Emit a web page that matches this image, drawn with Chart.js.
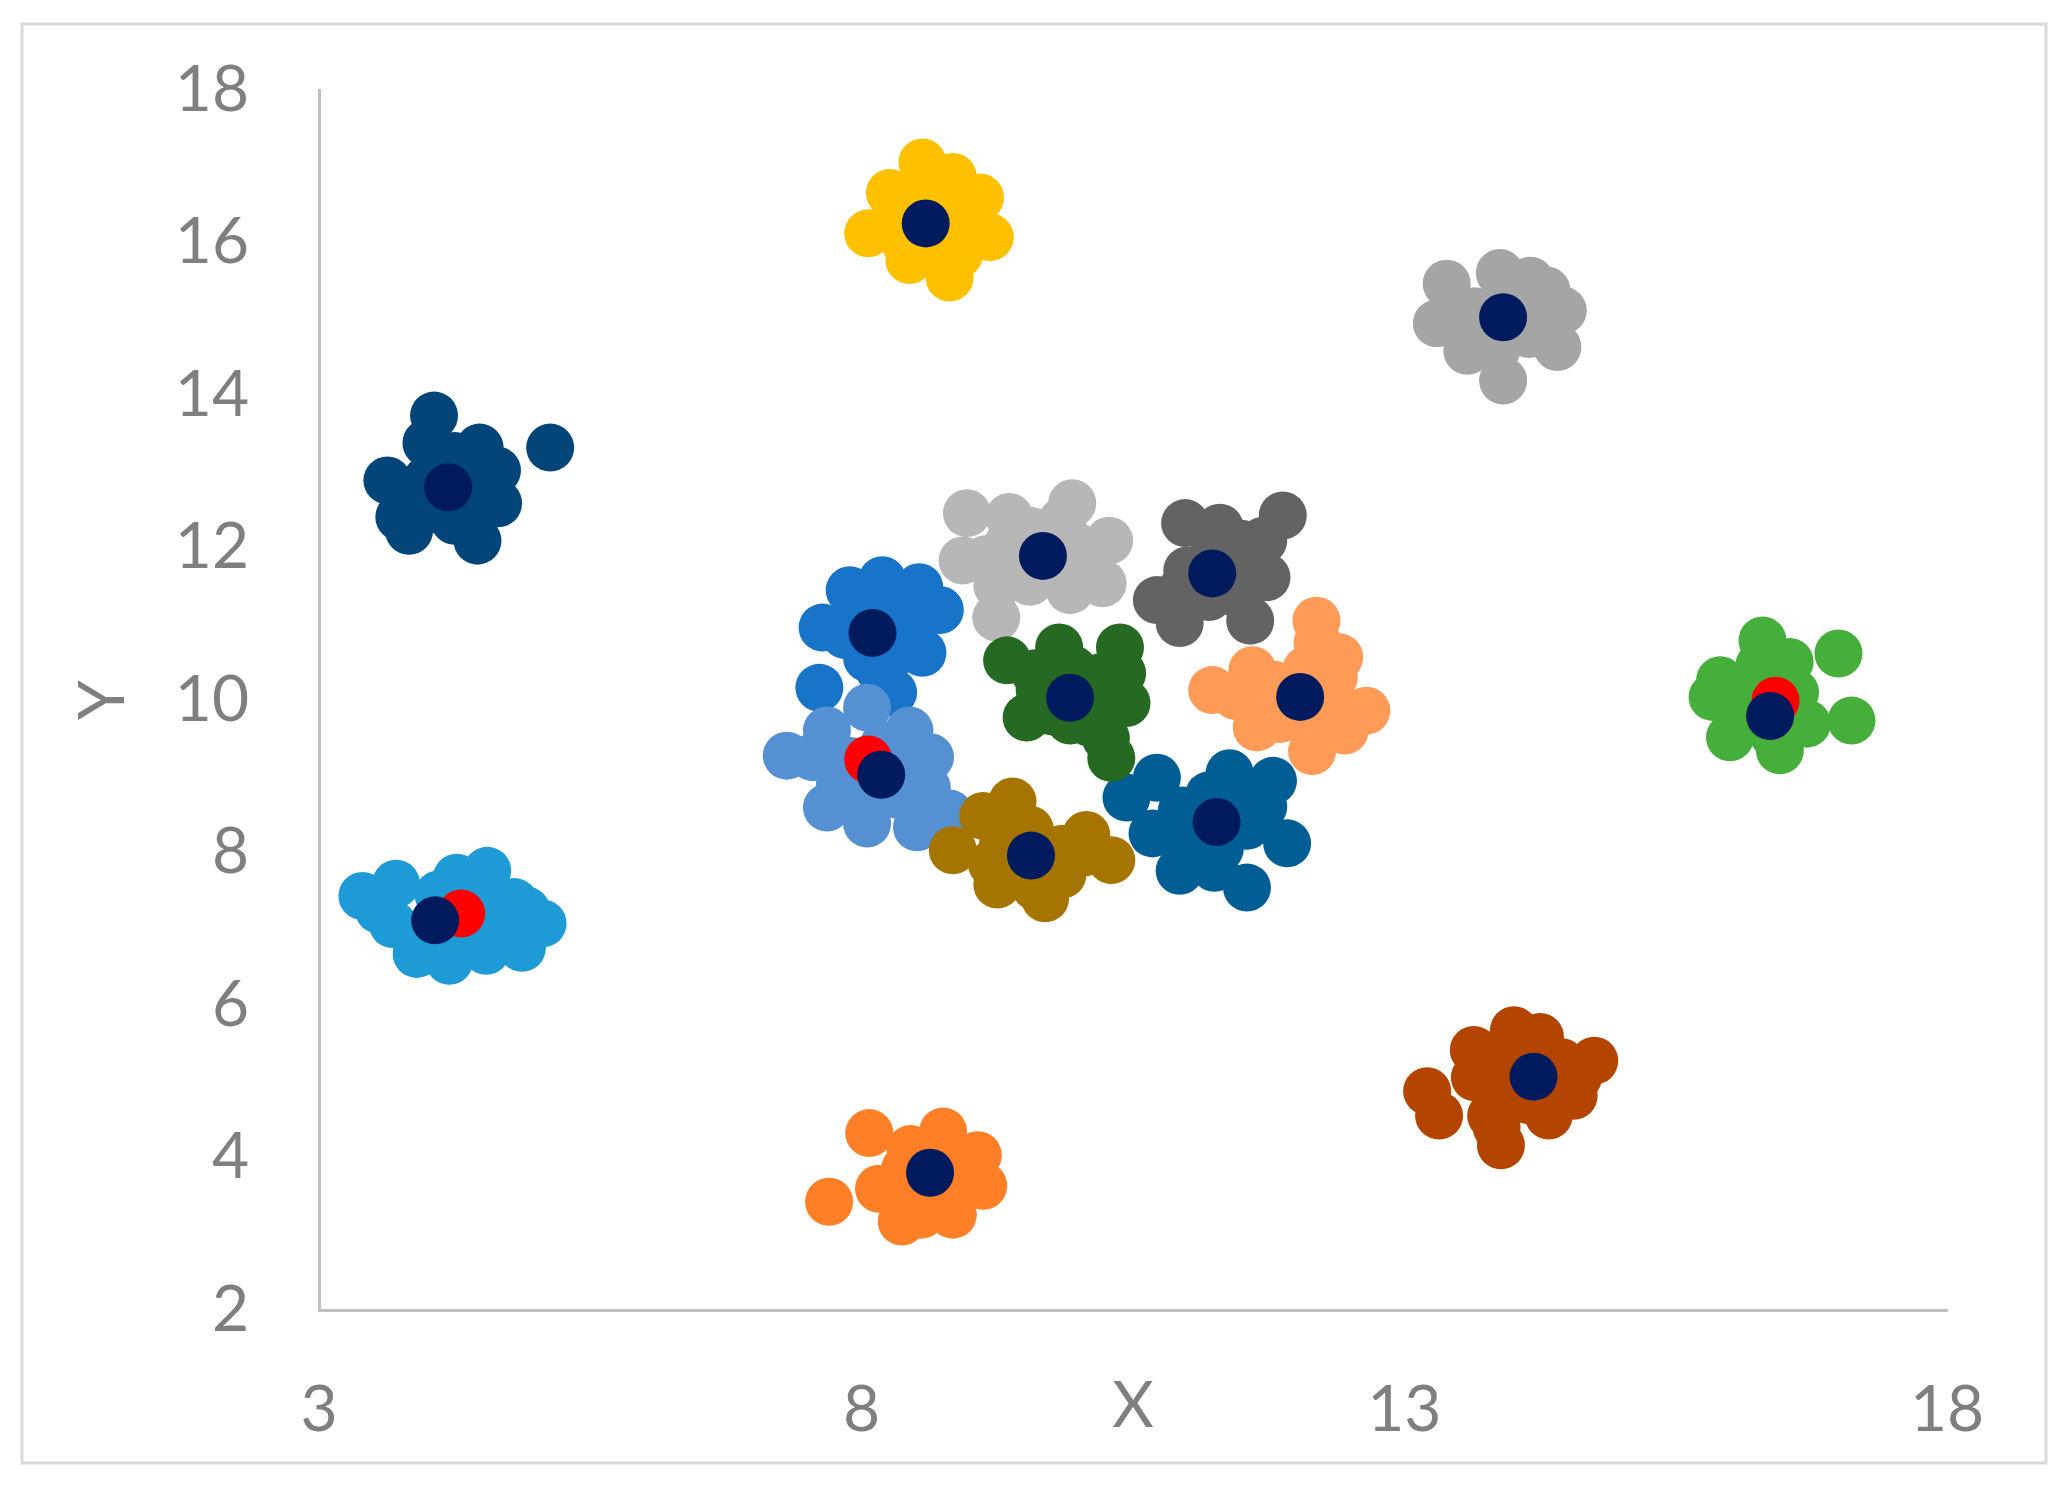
<!DOCTYPE html>
<html>
<head>
<meta charset="utf-8">
<style>
  html, body { margin: 0; padding: 0; background: #fff; }
  #myChart { display: block; }
</style>
</head>
<body>
<canvas id="myChart" width="2070" height="1487"></canvas>
<script src="https://cdn.jsdelivr.net/npm/chart.js"></script>
<script>
// cluster members, [x, y]
const darkBlue = [[4.06,13.73],[5.13,13.31],[3.63,12.88],[3.83,12.22],[4.46,12.09],[4.65,12.58],[4.64,13.01],[4.48,13.31],[3.99,13.37],[3.74,12.40],[4.20,13.14],[4.11,12.49],
                  [4.00,12.90],[4.40,12.95],[4.35,12.60],[4.00,12.60],[4.25,13.20],[3.85,12.75],[4.55,12.80],[4.25,12.35]];
const skyBlue = [[3.40,7.43],[3.71,7.59],[4.27,7.67],[4.55,7.76],[4.91,7.24],[5.06,7.07],[4.87,6.75],[4.54,6.71],[4.20,6.58],[3.90,6.67],[3.68,7.06],[4.60,7.10],
                 [3.55,7.25],[4.10,7.45],[4.45,7.45],[4.80,7.35],[4.70,7.00],[4.35,6.85],[4.05,6.85]];
const gold = [[8.56,17.05],[8.06,16.12],[9.09,16.59],[9.18,16.07],[8.81,15.54],[8.44,15.77],[8.26,16.65],[8.84,16.86],[8.67,16.23],
              [8.40,16.30],[8.75,16.45],[8.85,16.15],[8.60,15.95],[8.40,16.00],[8.60,16.60],[8.95,16.40],[8.90,15.85]];
const silver = [[13.39,15.46],[13.30,14.94],[13.88,15.60],[14.16,15.50],[14.46,15.11],[14.41,14.63],[13.91,14.19],[13.58,14.58],[14.31,15.37],
                [13.65,15.10],[13.95,15.35],[14.20,15.10],[14.15,14.80],[13.85,14.60],[13.60,14.85],[14.25,15.30]];
const darkGrey = [[10.98,12.32],[11.88,12.42],[11.70,12.09],[11.73,11.61],[10.72,11.31],[10.93,11.01],[11.58,11.04],[11.30,12.26],
                  [11.00,11.70],[11.25,11.95],[11.50,11.75],[11.45,11.40],[11.20,11.35],[10.95,11.45],[11.50,12.05]];
const lightGrey = [[8.97,12.45],[9.36,12.40],[9.94,12.58],[10.28,12.09],[10.22,11.53],[9.92,11.44],[9.24,11.08],[8.93,11.83],[9.55,12.22],
                   [9.35,12.05],[9.70,12.20],[10.00,12.00],[9.95,11.70],[9.55,11.55],[9.25,11.50],[9.15,11.85],[9.85,12.35]];
const blue = [[7.89,11.44],[8.19,11.57],[8.53,11.48],[8.72,11.18],[8.56,10.62],[8.29,10.10],[7.64,10.95],[7.61,10.16],[8.17,10.38],
              [7.95,11.15],[8.30,11.20],[8.45,10.90],[8.35,10.65],[8.05,10.55],[7.85,10.85],[8.00,11.35]];
const paleBlue = [[8.05,9.90],[7.31,9.27],[7.68,9.60],[8.63,9.25],[8.81,8.51],[8.51,8.33],[8.05,8.38],[7.68,8.59],[8.44,9.60],
                  [7.90,9.20],[8.20,9.40],[8.40,9.10],[8.35,8.75],[8.05,8.70],[7.80,8.90],[7.55,9.25],[8.60,8.85],[8.70,8.55]];
const steelBlue = [[10.44,8.72],[10.72,8.98],[11.39,9.04],[11.79,8.94],[11.92,8.12],[11.55,7.54],[10.93,7.76],[10.68,8.25],
                   [10.95,8.55],[11.20,8.75],[11.55,8.70],[11.55,8.35],[11.30,8.05],[11.00,8.10],[11.70,8.60],[11.25,7.80]];
const olive = [[8.84,8.03],[9.39,8.67],[9.12,8.48],[10.07,8.23],[10.30,7.90],[9.25,7.58],[9.69,7.40],[9.85,7.71],
               [9.30,8.10],[9.55,8.30],[9.85,8.05],[9.75,7.80],[9.45,7.70],[9.20,7.85],[9.60,7.55],[10.05,8.00]];
const forest = [[9.34,10.52],[9.52,9.77],[9.92,9.73],[9.82,10.69],[10.38,10.69],[10.44,9.96],[10.30,9.24],[9.64,10.13],
                [9.60,10.35],[9.95,10.40],[10.20,10.30],[10.20,10.00],[10.10,9.70],[9.75,9.85],[10.40,10.35],[10.25,9.50]];
const peach = [[12.19,11.04],[12.40,10.56],[12.65,9.86],[12.15,9.33],[11.23,10.13],[11.60,10.39],[11.64,9.64],[12.31,10.13],
               [11.80,10.20],[12.10,10.40],[12.35,10.30],[12.35,9.95],[12.10,9.70],[11.85,9.75],[11.45,10.05],[12.20,10.75],[12.45,9.60]];
const orange = [[7.70,3.42],[8.07,4.32],[8.75,4.34],[9.07,4.03],[9.12,3.63],[8.84,3.25],[8.37,3.16],[8.16,3.59],[8.45,4.11],
                [8.40,3.85],[8.60,4.10],[8.85,3.95],[8.85,3.65],[8.60,3.45],[8.35,3.50],[8.95,3.80],[8.55,3.25]];
const rust = [[13.21,4.87],[13.32,4.55],[13.64,5.41],[14.01,5.67],[14.25,5.58],[14.75,5.27],[14.56,4.81],[14.33,4.55],[13.89,4.16],[13.80,4.55],
              [13.90,5.15],[14.15,5.40],[14.45,5.25],[14.40,4.95],[14.15,4.75],[13.85,4.85],[13.65,5.05],[14.60,5.05],[13.95,5.45],[13.85,4.40]];
const green = [[16.30,10.78],[17.00,10.61],[17.12,9.73],[15.91,10.26],[15.84,10.04],[16.00,9.51],[16.46,9.34],[16.71,9.69],[16.27,10.45],
               [16.15,10.05],[16.40,10.25],[16.60,10.10],[16.60,9.80],[16.40,9.55],[16.15,9.70],[16.05,10.15],[16.55,10.50]];

// bottom to top
const clusters = [darkBlue, skyBlue, gold, silver, darkGrey, lightGrey, blue, paleBlue, steelBlue, olive, forest, peach, orange, rust, green];
const clusterColors = ['#034479', '#1E9BD7', '#FFC000', '#A5A5A5', '#636363', '#B7B7B7', '#1874C8', '#5590D3',
                       '#005E95', '#A67500', '#266923', '#FF9A57', '#FF7F27', '#B34500', '#46AF3C'];

const redPoints = [[4.31,7.20],[8.06,9.22],[16.42,9.99]];
const centroids = [[4.19,12.79],[4.07,7.11],[8.59,16.25],[13.91,15.02],[11.23,11.66],[9.67,11.89],[8.10,10.88],[8.18,9.02],
                   [11.27,8.40],[9.56,7.96],[9.92,10.03],[12.04,10.04],[8.63,3.80],[14.19,5.06],[16.37,9.79]];

const xMin = 3, xMax = 18, xStep = 5;
const yMin = 2, yMax = 18, yStep = 2;

const toPts = arr => arr.map(p => ({x: p[0], y: p[1]}));
const grey = '#7F7F7F';
const fontFam = 'Lato, "Open Sans", sans-serif';

const datasets = [
    {label: 'centroid', data: toPts(centroids), backgroundColor: '#001A5E', order: 0},
    {label: 'red', data: toPts(redPoints), backgroundColor: '#FF0000', order: 1}
];
clusters.forEach((c, i) => {
    datasets.push({label: 'c' + i, data: toPts(c), backgroundColor: clusterColors[i], order: 100 - i});
});

const bgBorder = {
    id: 'bgBorder',
    beforeDraw: (chart) => {
        const {ctx, width, height} = chart;
        ctx.save();
        ctx.fillStyle = 'white';
        ctx.fillRect(0, 0, width, height);
        ctx.strokeStyle = '#D9D9D9';
        ctx.lineWidth = 3;
        ctx.strokeRect(22, 24, 2024, 1439);
        ctx.restore();
    }
};

const axisTitles = {
    id: 'axisTitles',
    afterDraw: (chart) => {
        const {ctx, chartArea} = chart;
        ctx.save();
        ctx.fillStyle = grey;
        ctx.font = '64px ' + fontFam;
        ctx.textAlign = 'center';
        ctx.textBaseline = 'middle';
        ctx.fillText('X', (chartArea.left + chartArea.right) / 2, chartArea.bottom + 96);
        ctx.translate(chartArea.left - 216, (chartArea.top + chartArea.bottom) / 2);
        ctx.rotate(-Math.PI / 2);
        ctx.fillText('Y', 0, 0);
        ctx.restore();
    }
};

var ctx = document.getElementById('myChart');
var myChart = new Chart(ctx, {
    type: 'scatter',
    data: {datasets: datasets},
    options: {
        responsive: false,
        animation: false,
        devicePixelRatio: 1,
        layout: {padding: {top: 90, right: 123, bottom: 0, left: 0}},
        elements: {point: {radius: 24, hoverRadius: 24, borderWidth: 0}},
        plugins: {legend: {display: false}, tooltip: {enabled: false}},
        scales: {
            x: {
                type: 'linear', min: xMin, max: xMax,
                ticks: {stepSize: xStep, color: grey, padding: 62, font: {family: fontFam, size: 64}},
                grid: {display: false, drawTicks: false},
                border: {display: true, color: '#BFBFBF', width: 3},
                afterFit: (s) => { s.height = 177; }
            },
            y: {
                type: 'linear', min: yMin, max: yMax,
                // small lineHeight keeps the label overflow from pushing the plot top down
                ticks: {stepSize: yStep, color: grey, padding: 70, font: {family: fontFam, size: 64, lineHeight: 0.2}},
                grid: {display: false, drawTicks: false},
                border: {display: true, color: '#BFBFBF', width: 3},
                afterFit: (s) => { s.width = 319; }
            }
        }
    },
    plugins: [bgBorder, axisTitles]
});
</script>
</body>
</html>
